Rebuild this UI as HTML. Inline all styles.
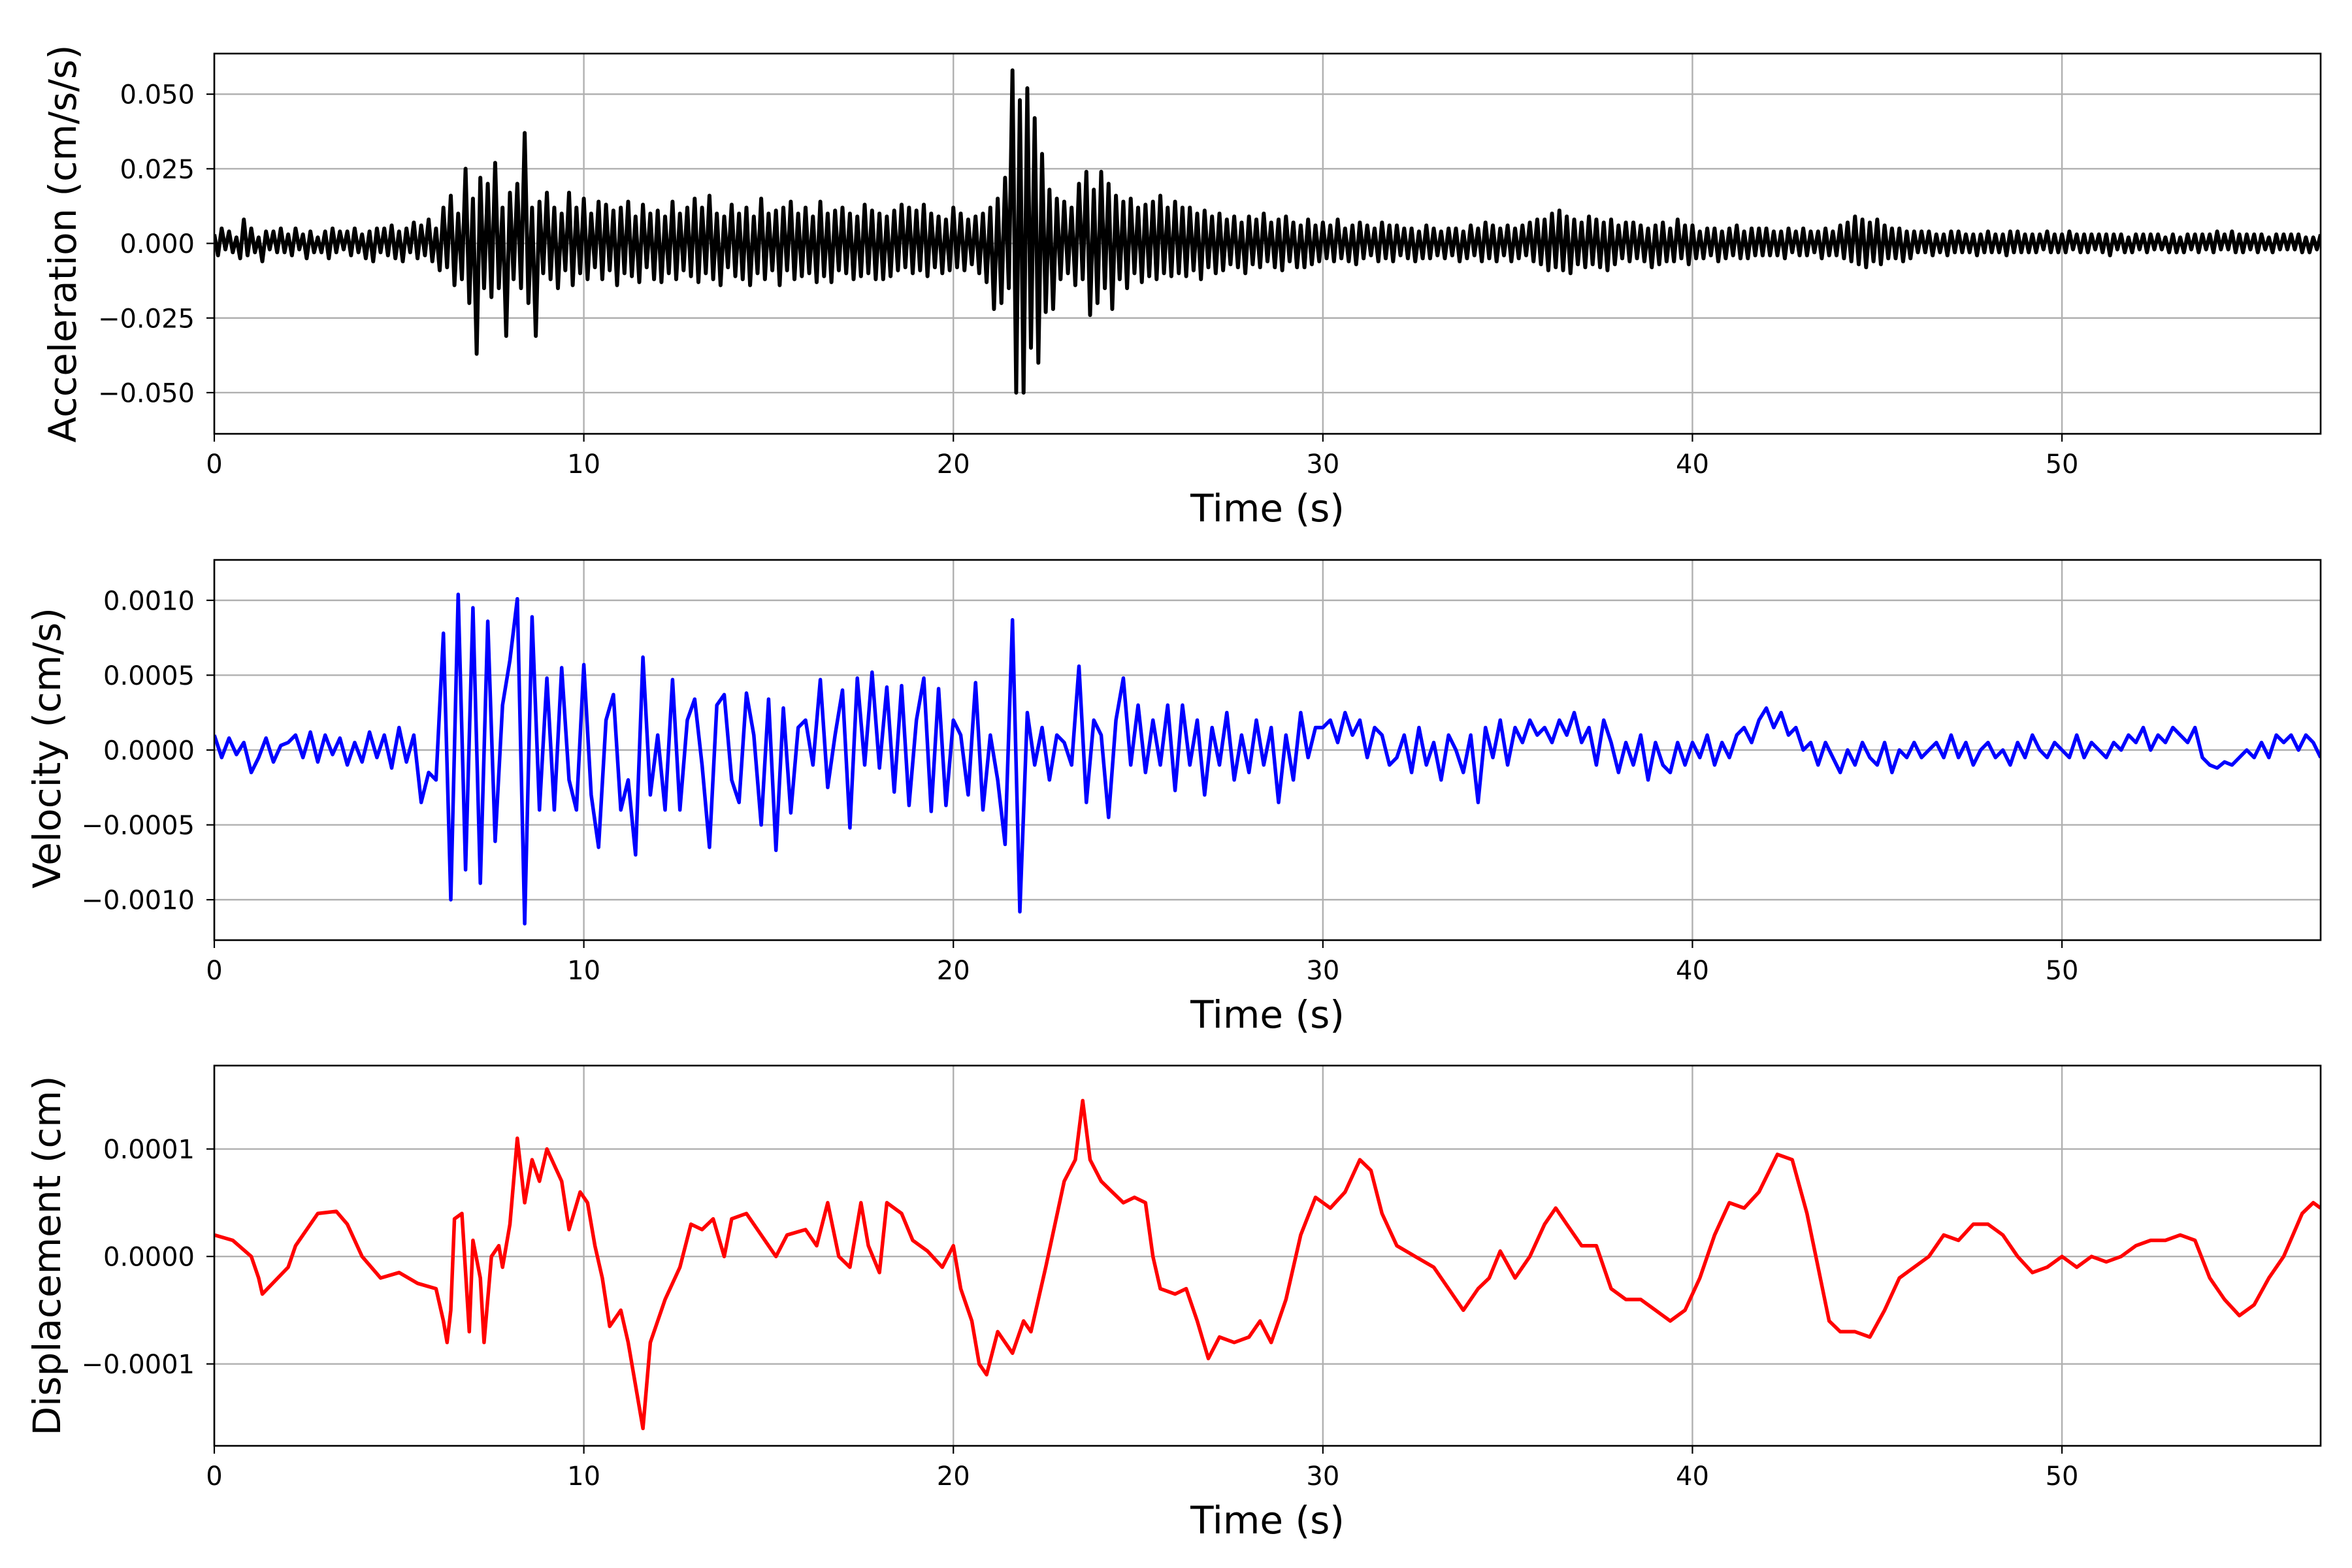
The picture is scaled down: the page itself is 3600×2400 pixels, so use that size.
<!DOCTYPE html>
<html><head><meta charset="utf-8"><style>
html,body{margin:0;padding:0;background:#fff;}
svg{display:block;}
text{font-family:"DejaVu Sans","Liberation Sans",sans-serif;fill:#000;}
</style></head>
<body>
<svg id="fig" width="3600" height="2400" viewBox="0 0 3600 2400" xmlns="http://www.w3.org/2000/svg">
<rect x="0" y="0" width="3600" height="2400" fill="#fff"/>
</svg>
<script>
// sample intervals (s)
const accelDt = 0.1;
const velDt = 0.2;
// acceleration values, units of 1e-3 cm/s/s
const accelValues = [
3,-4,5,-2,4,-3,2,-5,8,-4,5,-3,2,-6,4,-2,4,-3,5,-3,
3,-4,5,-2,3,-5,4,-3,2,-3,4,-5,5,-3,4,-2,4,-4,5,-3,
3,-5,4,-6,5,-3,5,-4,6,-5,4,-6,5,-3,7,-5,6,-4,8,-6,
5,-9,12,-8,16,-14,10,-12,25,-20,15,-37,22,-15,20,-18,27,-15,12,-31,
17,-12,20,-15,37,-20,12,-31,14,-10,17,-12,12,-15,10,-9,17,-14,12,-10,
15,-12,10,-8,14,-12,13,-9,11,-14,12,-10,14,-11,9,-13,13,-8,10,-12,
11,-13,9,-10,14,-12,10,-9,12,-11,15,-13,12,-10,16,-12,10,-14,9,-8,
13,-11,10,-12,12,-14,9,-10,15,-12,10,-9,11,-14,12,-9,14,-12,10,-11,
12,-10,9,-13,14,-11,10,-13,11,-9,12,-10,10,-12,9,-11,13,-10,11,-12,
10,-12,9,-11,11,-9,13,-8,12,-10,11,-9,13,-11,10,-8,9,-10,8,-9,
12,-8,10,-9,8,-7,9,-10,10,-13,12,-22,15,-20,22,-15,58,-50,48,-50,
52,-35,42,-40,30,-23,18,-22,15,-12,14,-10,12,-14,20,-12,24,-24,18,-20,
24,-15,20,-22,16,-12,14,-15,15,-10,12,-13,13,-11,14,-12,16,-10,12,-11,
14,-10,12,-11,12,-9,10,-12,11,-8,9,-10,10,-9,8,-7,9,-8,7,-10,
9,-7,8,-8,10,-6,7,-8,8,-9,9,-6,7,-8,6,-8,8,-7,6,-6,
7,-5,6,-6,8,-5,5,-6,6,-7,7,-5,6,-4,5,-6,7,-5,6,-6,
6,-4,5,-5,5,-6,4,-5,6,-5,5,-4,4,-5,5,-4,5,-6,4,-5,
6,-4,5,-6,7,-5,6,-6,5,-4,6,-6,5,-5,6,-4,7,-6,8,-7,
8,-9,10,-8,11,-9,9,-10,8,-7,7,-8,9,-7,8,-8,7,-9,8,-7,
6,-5,7,-6,7,-5,6,-6,5,-8,6,-7,7,-6,5,-6,8,-5,6,-7,
6,-5,4,-5,5,-4,5,-6,4,-5,5,-4,6,-5,4,-5,5,-4,5,-4,
5,-4,4,-4,4,-5,5,-3,4,-4,5,-4,4,-3,4,-5,5,-4,4,-4,
6,-5,7,-6,9,-7,8,-8,7,-6,8,-7,6,-5,5,-5,5,-6,4,-5,
4,-3,4,-3,4,-4,3,-3,3,-4,4,-3,4,-3,3,-3,3,-4,3,-3,
4,-3,3,-3,3,-4,4,-3,4,-3,3,-3,3,-3,3,-2,4,-3,3,-3,
3,-3,4,-2,3,-3,3,-3,3,-2,3,-3,3,-4,3,-2,3,-3,2,-3,
3,-2,3,-3,3,-2,3,-2,2,-3,3,-3,2,-3,3,-2,3,-3,3,-2,
3,-3,4,-2,3,-2,4,-3,3,-3,3,-2,3,-3,3,-2,2,-3,3,-2,
3,-2,3,-2,3,-3,2,-3,2,-2,3];
// velocity values, units of 1e-5 cm/s
const velValues = [
10,-5,8,-3,5,-15,-5,8,-8,3,
5,10,-5,12,-8,10,-3,8,-10,5,
-8,12,-5,10,-12,15,-8,10,-35,-15,
-20,78,-100,104,-80,95,-89,86,-61,30,
60,101,-116,89,-40,48,-40,55,-20,-40,
57,-30,-65,20,37,-40,-20,-70,62,-30,
10,-40,47,-40,20,34,-10,-65,30,37,
-20,-35,38,10,-50,34,-67,28,-42,15,
20,-10,47,-25,10,40,-52,48,-10,52,
-12,42,-28,43,-37,20,48,-41,41,-37,
20,10,-30,45,-40,10,-20,-63,87,-108,
25,-10,15,-20,10,5,-10,56,-35,20,
10,-45,20,48,-10,30,-15,20,-10,30,
-27,30,-10,20,-30,15,-10,25,-20,10,
-15,20,-10,15,-35,10,-20,25,-5,15,
15,20,5,25,10,20,-5,15,10,-10,
-5,10,-15,15,-10,5,-20,10,0,-15,
10,-35,15,-5,20,-10,15,5,20,10,
15,5,20,10,25,5,15,-10,20,5,
-15,5,-10,10,-20,5,-10,-15,5,-10,
5,-5,10,-10,5,-5,10,15,5,20,
28,15,25,10,15,0,5,-10,5,-5,
-15,0,-10,5,-5,-10,5,-15,0,-5,
5,-5,0,5,-5,10,-5,5,-10,0,
5,-5,0,-10,5,-5,10,0,-5,5,
0,-5,10,-5,5,0,-5,5,0,10,
5,15,0,10,5,15,10,5,15,-5,
-10,-12,-8,-10,-5,0,-5,5,-5,10,
5,10,0,10,5,-5];
// displacement, units of 1e-6 cm
const dispTimes = [0,0.5,1,1.2,1.3,2,2.2,2.8,3.3,3.6,4,4.5,5,5.5,6,6.2,6.3,6.4,6.5,6.7,6.9,7.0,7.2,7.3,7.5,7.7,7.8,8,8.2,8.4,8.6,8.8,9.0,9.4,9.6,9.9,10.1,10.3,10.5,10.7,11,11.2,11.6,11.8,12.2,12.6,12.9,13.2,13.5,13.8,14,14.4,14.8,15.2,15.5,16,16.3,16.6,16.9,17.2,17.5,17.7,18.0,18.2,18.6,18.9,19.3,19.7,20,20.2,20.5,20.7,20.9,21.2,21.6,21.9,22.1,22.3,22.5,23,23.3,23.5,23.7,24,24.3,24.6,24.9,25.2,25.4,25.6,26,26.3,26.6,26.9,27.2,27.6,28.0,28.3,28.6,29.0,29.4,29.8,30.2,30.6,31.0,31.3,31.6,32,32.5,33,33.4,33.8,34.2,34.5,34.8,35.2,35.6,36,36.3,36.6,37,37.4,37.8,38.2,38.6,39,39.4,39.8,40.2,40.6,41,41.4,41.8,42.3,42.7,43.1,43.4,43.7,44.0,44.4,44.8,45.2,45.6,46,46.4,46.8,47.2,47.6,48,48.4,48.8,49.2,49.6,50,50.4,50.8,51.2,51.6,52,52.4,52.8,53.2,53.6,54,54.4,54.8,55.2,55.6,56,56.5,56.8,57];
const dispValues = [20,15,0,-20,-35,-10,10,40,42,30,0,-20,-15,-25,-30,-60,-80,-50,35,40,-70,15,-20,-80,0,10,-10,30,110,50,90,70,100,70,25,60,50,10,-20,-65,-50,-80,-160,-80,-40,-10,30,25,35,0,35,40,20,0,20,25,10,50,0,-10,50,10,-15,50,40,15,5,-10,10,-30,-60,-100,-110,-70,-90,-60,-70,-40,-10,70,90,145,90,70,60,50,55,50,0,-30,-35,-30,-60,-95,-75,-80,-75,-60,-80,-40,20,55,45,60,90,80,40,10,0,-10,-30,-50,-30,-20,5,-20,0,30,45,30,10,10,-30,-40,-40,-50,-60,-50,-20,20,50,45,60,95,90,40,-10,-60,-70,-70,-75,-50,-20,-10,0,20,15,30,30,20,0,-15,-10,0,-10,0,-5,0,10,15,15,20,15,-20,-40,-55,-45,-20,0,40,50,45];
const xTicks = [0,10,20,30,40,50];
const accelTicks = [0.05,0.025,0,-0.025,-0.05];
const accelTickLabels = ["0.050","0.025","0.000","\u22120.025","\u22120.050"];
const velTicks = [0.001,0.0005,0,-0.0005,-0.001];
const velTickLabels = ["0.0010","0.0005","0.0000","\u22120.0005","\u22120.0010"];
const dispTicks = [0.0001,0,-0.0001];
const dispTickLabels = ["0.0001","0.0000","\u22120.0001"];

const NS = "http://www.w3.org/2000/svg";
const svg = document.getElementById('fig');
const L = 328, R = 3552, H = 582;
const xMax = 57.0;
function xScale(t){ return L + t/xMax*(R-L); }
function mk(tag, attrs, parent){
  const e = document.createElementNS(NS, tag);
  for (const k in attrs) e.setAttribute(k, attrs[k]);
  (parent||svg).appendChild(e);
  return e;
}
function panel(cfg){
  const top = cfg.top, bot = top + H;
  const yScale = v => top + (cfg.yMax - v)/(cfg.yMax - cfg.yMin)*H;
  const g = mk('g', {});
  
  
  const cp = mk('clipPath', {id: 'clip-' + cfg.name}, g);
  mk('rect', {x: L, y: top, width: R-L, height: H}, cp);
  xTicks.forEach(t => {
    const l = mk('line', {x1: xScale(t), x2: xScale(t), y1: top, y2: bot, stroke: '#b0b0b0', 'stroke-width': 2.4}, g);
    
    
  });
  cfg.ticks.forEach(v => {
    const l = mk('line', {x1: L, x2: R, y1: yScale(v), y2: yScale(v), stroke: '#b0b0b0', 'stroke-width': 2.4}, g);
    
    
  });
  let pts = [];
  for (let i = 0; i < cfg.values.length; i++) {
    const t = cfg.times ? cfg.times[i] : i*cfg.dt;
    pts.push(xScale(t).toFixed(1) + ',' + yScale(cfg.values[i]*cfg.unit).toFixed(1));
  }
  const pl = mk('polyline', {points: pts.join(' '), fill: 'none', stroke: cfg.color, 'stroke-width': cfg.lw, 'stroke-linejoin': 'round', 'clip-path': 'url(#clip-' + cfg.name + ')'}, g);
  
  
  const sp = mk('rect', {x: L, y: top, width: R-L, height: H, fill: 'none', stroke: '#000', 'stroke-width': 2.6}, g);
  
  
  xTicks.forEach(t => {
    mk('line', {x1: xScale(t), x2: xScale(t), y1: bot, y2: bot + 12, stroke: '#000', 'stroke-width': 2.2}, g);
    const tx = mk('text', {x: xScale(t), y: bot + 60, 'font-size': 40, 'text-anchor': 'middle'}, g);
    tx.textContent = String(t);
    
    
  });
  cfg.ticks.forEach((v, i) => {
    mk('line', {x1: L - 12, x2: L, y1: yScale(v), y2: yScale(v), stroke: '#000', 'stroke-width': 2.2}, g);
    const tx = mk('text', {x: 298, y: yScale(v) + 14.5, 'font-size': 40, 'text-anchor': 'end'}, g);
    tx.textContent = cfg.labels[i];
    
    
  });
  const xl = mk('text', {x: 1940, y: bot + 134, 'font-size': 58, 'text-anchor': 'middle'}, g);
  xl.textContent = 'Time (s)';
  
  
  const yl = mk('text', {x: 0, y: 0, 'font-size': 58, 'text-anchor': 'middle', textLength: cfg.ylen, lengthAdjust: 'spacingAndGlyphs', transform: 'translate(' + cfg.ylx + ',' + cfg.yly + ') rotate(-90)'}, g);
  yl.textContent = cfg.ylabel;
  
  
}
panel({name: 'acceleration', top: 82, yMin: -0.0638, yMax: 0.0636, ticks: accelTicks, labels: accelTickLabels, values: accelValues, dt: accelDt, unit: 1e-3, color: '#000000', lw: 6, ylabel: 'Acceleration (cm/s/s)', ylx: 116, yly: 373, ylen: 609});
panel({name: 'velocity', top: 857, yMin: -0.00127, yMax: 0.00127, ticks: velTicks, labels: velTickLabels, values: velValues, dt: velDt, unit: 1e-5, color: '#0000ff', lw: 5.5, ylabel: 'Velocity (cm/s)', ylx: 92, yly: 1145, ylen: 430});
panel({name: 'displacement', top: 1631, yMin: -0.0001762, yMax: 0.0001776, ticks: dispTicks, labels: dispTickLabels, values: dispValues, times: dispTimes, unit: 1e-6, color: '#ff0000', lw: 5.5, ylabel: 'Displacement (cm)', ylx: 92, yly: 1922, ylen: 551});
</script>
</body></html>
